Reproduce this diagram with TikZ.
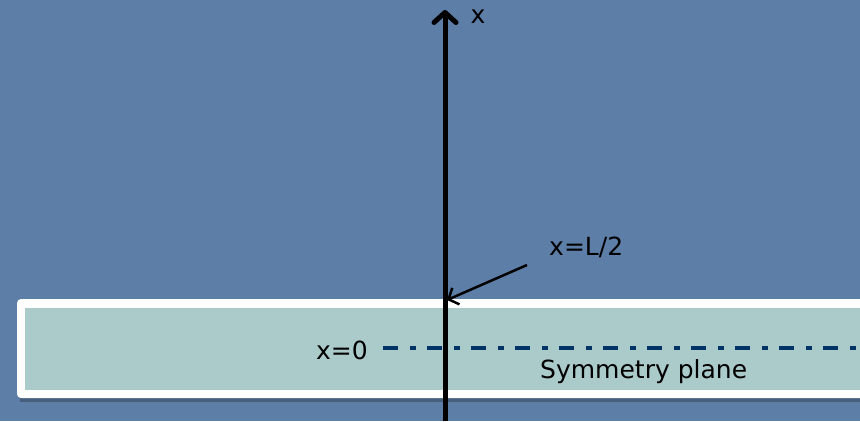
\documentclass[tikz,border=0pt]{standalone}
\usepackage{fontspec}
\setmainfont{DejaVu Sans}
\usetikzlibrary{arrows.meta}

\definecolor{slide}{RGB}{93,127,167}
\definecolor{band}{RGB}{170,203,202}
\definecolor{navy}{RGB}{0,51,102}

\tikzset{
  lbl/.style={font=\fontsize{25}{30}\selectfont, inner sep=0pt, text=black},
  axisline/.style={line width=5pt, -{Straight Barb[length=10pt, width=22pt, line join=round, line cap=round]}},
  pointer/.style={line width=2.5pt, -{Straight Barb[length=8pt, width=18pt]}},
  symline/.style={navy, line width=4.5pt, dash pattern=on 15pt off 12pt on 6pt off 11pt}
}

\begin{document}
\begin{tikzpicture}[x=1pt, y=-1pt]
  \clip (0,0) rectangle (860,421);
  \fill[slide] (0,0) rectangle (860,421);

  % band with the symmetry plane
  \fill[black, opacity=0.25] (20,303) rectangle (880,402);
  \fill[white, rounded corners=4pt] (17,299) rectangle (880,398);
  \fill[band] (25,308) rectangle (880,390);

  \coordinate (bottom) at (445,421);
  \coordinate (top) at (445,10);
  \coordinate (wall) at (447,300);
  \coordinate (start) at (527,265);
  \coordinate (planeend) at (870,348);

  \node (x0) [lbl, anchor=east] at (368,350) {x=0};
  \node (sym) [lbl, anchor=west] at (540,372) {Symmetry plane};
  \node (xl) [lbl, anchor=west] at (549,247) {x=L/2};
  \node (xaxis) [lbl] at (478,17) {x};

  \draw[symline] (x0.east) ++(15,-2) coordinate (planestart) -- (planeend);
  \draw[axisline] (bottom) -- (top);
  \draw[pointer] (start) -- (wall);
\end{tikzpicture}
\end{document}
